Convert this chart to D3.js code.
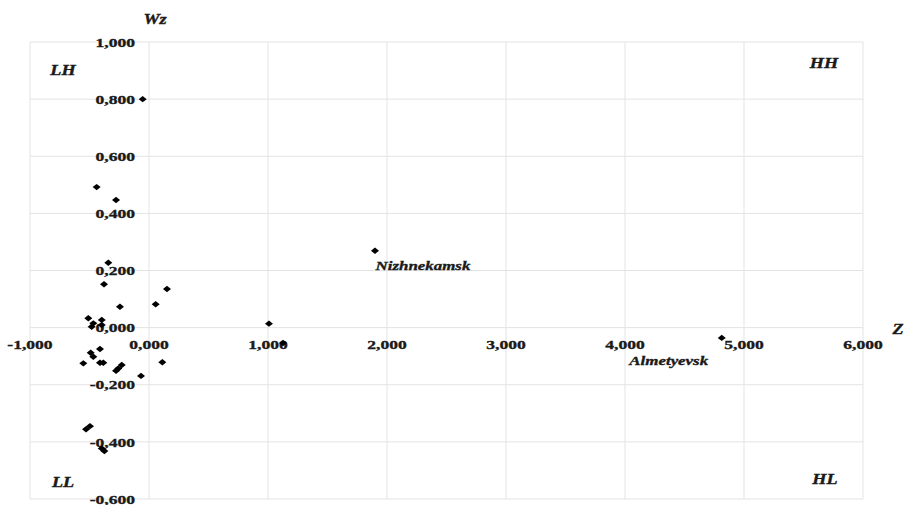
<!DOCTYPE html>
<html>
<head>
<meta charset="utf-8">
<script src="https://cdn.jsdelivr.net/npm/d3@7"></script>
<style>
  html, body { margin: 0; padding: 0; background: #fff; }
  svg { display: block; }
  text { font-family: "Liberation Serif", "Times New Roman", serif; font-weight: bold; fill: #1a1a1a; stroke: #1a1a1a; stroke-width: 0.35px; }
</style>
</head>
<body>
<svg id="chart" width="916" height="505"></svg>
<script>
// Moran scatterplot data: Z (standardized value) and Wz (spatial lag)
const zValues = [-53, -440, -277, -342, -378, -244, 56, 151, -510, -397, -468, -482, -397, 1008, 1126, 1899, 4813,
  -412, -490, -468, -552, -412, -384, -229, -258, -277, 112, -67, -496, -529, -397, -375];
const wzValues = [0.800, 0.492, 0.447, 0.227, 0.152, 0.073, 0.082, 0.135, 0.033, 0.027, 0.015, 0.003, 0.009, 0.014, -0.054, 0.269, -0.036,
  -0.075, -0.088, -0.102, -0.125, -0.123, -0.123, -0.131, -0.143, -0.151, -0.121, -0.169, -0.345, -0.356, -0.423, -0.432];
const xTicks = [-1000, 0, 1000, 2000, 3000, 4000, 5000, 6000];
const yTicks = [-0.6, -0.4, -0.2, 0, 0.2, 0.4, 0.6, 0.8, 1.0];
const pointLabels = [{ name: "Nizhnekamsk", index: 15 }, { name: "Almetyevsk", index: 16 }];
const quadrants = ["LH", "HH", "LL", "HL"];

const svg = d3.select("#chart");
const x = d3.scaleLinear().domain([-1000, 6000]).range([30, 863]);
const y = d3.scaleLinear().domain([-0.6, 1.0]).range([499, 42]);
const SX = 1.3; // horizontal text stretch as in the reference

const fmtX = v => (v / 1000).toFixed(3).replace(".", ",");
const fmtY = v => v.toFixed(3).replace(".", ",");

function stretchedText(g, tx, ty, str, size, anchor, italic) {
  return g.append("text")
    .attr("transform", `translate(${tx},${ty}) scale(${SX},1)`)
    .attr("text-anchor", anchor)
    .style("font-size", size + "px")
    .style("font-style", italic ? "italic" : "normal")
    .text(str);
}

// grid
const grid = svg.append("g");
grid.selectAll("line.v").data(xTicks).join("line")
  .attr("x1", d => x(d)).attr("x2", d => x(d))
  .attr("y1", y(1.0)).attr("y2", y(-0.6))
  .attr("stroke", "#e3e3e3").attr("stroke-width", 1);
grid.selectAll("line.h").data(yTicks).join("line")
  .attr("x1", x(-1000)).attr("x2", x(6000))
  .attr("y1", d => y(d)).attr("y2", d => y(d))
  .attr("stroke", "#e3e3e3").attr("stroke-width", 1);

// x tick labels (under the zero line)
const labels = svg.append("g");
xTicks.forEach(t => {
  stretchedText(labels, x(t), y(0) + 21, fmtX(t), 13.5, "middle", false);
});
// y tick labels (left of the zero vertical)
yTicks.forEach(t => {
  stretchedText(labels, x(0) - 14, y(t) + 4.7, fmtY(t), 13.5, "end", false);
});

// axis titles
stretchedText(labels, x(0) + 6, 24, "Wz", 14, "middle", true);
stretchedText(labels, 898, y(0) + 6, "Z", 14, "middle", true);

// quadrant labels
const qPos = {
  LH: [x(-1000) + 33, y(1.0) + 33],
  HH: [x(6000) - 39, y(1.0) + 26],
  LL: [x(-1000) + 33, y(-0.6) - 12],
  HL: [x(6000) - 38, y(-0.6) - 15]
};
quadrants.forEach(q => stretchedText(labels, qPos[q][0], qPos[q][1], q, 14, "middle", true));

// points
const diamond = "M0,-3.2L4,0L0,3.2L-4,0Z";
svg.append("g").selectAll("path").data(zValues.map((z, i) => [z, wzValues[i]])).join("path")
  .attr("d", diamond)
  .attr("transform", d => `translate(${x(d[0])},${y(d[1])})`)
  .attr("fill", "#000");

// point labels
const nz = pointLabels[0], al = pointLabels[1];
stretchedText(labels, x(zValues[nz.index]) + 48, y(wzValues[nz.index]) + 19, nz.name, 13, "middle", true);
stretchedText(labels, x(zValues[al.index]) - 53, y(wzValues[al.index]) + 27, al.name, 13, "middle", true);
</script>
</body>
</html>
